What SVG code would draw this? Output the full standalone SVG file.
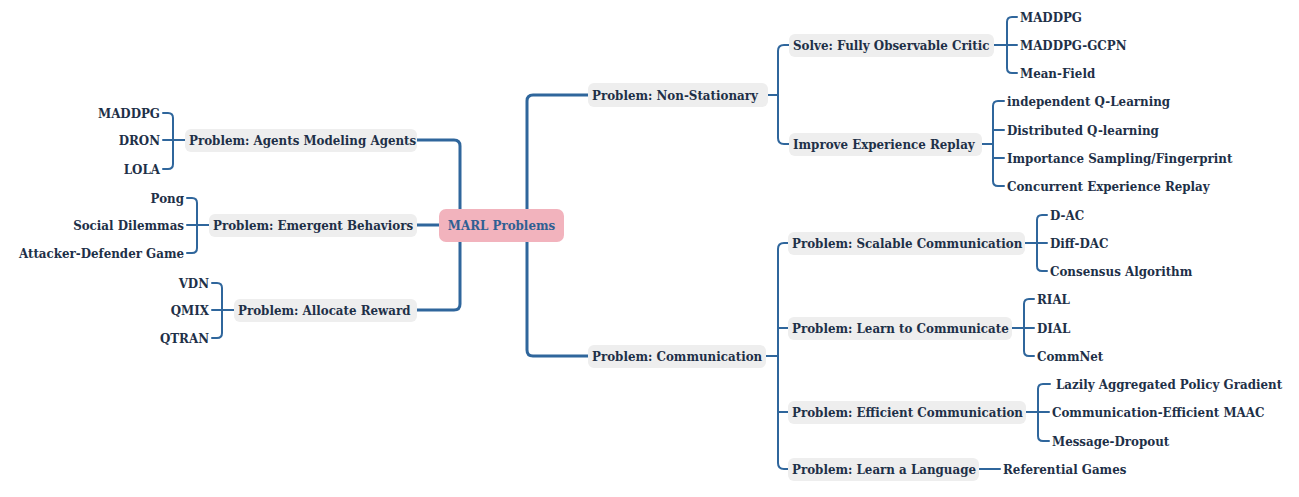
<svg xmlns="http://www.w3.org/2000/svg" width="1299" height="497" viewBox="0 0 1299 497">
<style>
text{font-family:"DejaVu Serif Condensed","DejaVu Serif","Liberation Serif",serif;font-stretch:condensed;font-weight:bold;font-size:13.2px;fill:#1e3048;dominant-baseline:central}
.box{fill:#eeeeee}
.end{text-anchor:end}
.con path{fill:none;stroke:#2f669c;stroke-width:2;stroke-linecap:round}
.con path.main{stroke-width:3}
</style>
<rect width="1299" height="497" fill="#ffffff"/>
<g class="con" id="connectors">
<path class="main" d="M417,140 H454 Q460,140 460,146 V304 Q460,310 454,310 H417"/>
<path class="main" d="M417,225 H439"/>
<path class="main" d="M588,95 H533 Q527,95 527,101 V350 Q527,356 533,356 H588"/>
<path d="M163,113 H168 Q173,113 173,118 V164 Q173,169 168,169 H163 M163,140 H185"/>
<path d="M187,198 H192 Q197,198 197,203 V248 Q197,253 192,253 H187 M187,225 H209"/>
<path d="M212,283 H217 Q222,283 222,288 V333 Q222,338 217,338 H212 M212,310 H234"/>
<path d="M768,95 H778 M789,45 H784 Q778,45 778,51 V138 Q778,144 784,144 H789"/>
<path d="M994,45 H1017 M1017,17 H1012 Q1007,17 1007,22 V68 Q1007,73 1012,73 H1017"/>
<path d="M982,144 H993 M1004,101 H998 Q993,101 993,106 V181 Q993,186 998,186 H1004 M993,130 H1004 M993,158 H1004"/>
<path d="M766,356 H778 M788,243 H784 Q778,243 778,249 V463 Q778,469 784,469 H788 M778,328 H788 M778,412 H788"/>
<path d="M1025,243 H1047 M1047,215 H1042 Q1037,215 1037,220 V266 Q1037,271 1042,271 H1047"/>
<path d="M1012,328 H1034 M1034,299 H1029 Q1024,299 1024,304 V351 Q1024,356 1029,356 H1034"/>
<path d="M1026,412 H1049 M1050,384 H1043 Q1038,384 1038,389 V436 Q1038,441 1043,441 H1049"/>
<path d="M979,469 H1000"/>
</g>
<g id="root"><rect x="439" y="209" width="125" height="33" rx="7" fill="#f2b3bd"/><text x="501.5" y="225.5" style="text-anchor:middle;fill:#2f5f93">MARL Problems</text></g>
<g id="n-agents"><rect class="box" x="185" y="129" width="232" height="23" rx="6"/><text x="189" y="140.5">Problem: Agents Modeling Agents</text></g>
<g id="n-emergent"><rect class="box" x="209" y="214" width="208" height="23" rx="6"/><text x="213" y="225.5">Problem: Emergent Behaviors</text></g>
<g id="n-reward"><rect class="box" x="234" y="299" width="183" height="23" rx="6"/><text x="238" y="310.5">Problem: Allocate Reward</text></g>
<g id="l-maddpg1"><text class="end" x="160" y="113">MADDPG</text></g>
<g id="l-dron"><text class="end" x="160" y="140.5">DRON</text></g>
<g id="l-lola"><text class="end" x="160" y="169">LOLA</text></g>
<g id="l-pong"><text class="end" x="184" y="198">Pong</text></g>
<g id="l-social"><text class="end" x="184" y="225.5">Social Dilemmas</text></g>
<g id="l-attacker"><text class="end" x="184" y="253">Attacker-Defender Game</text></g>
<g id="l-vdn"><text class="end" x="209" y="283">VDN</text></g>
<g id="l-qmix"><text class="end" x="209" y="310.5">QMIX</text></g>
<g id="l-qtran"><text class="end" x="209" y="338">QTRAN</text></g>
<g id="n-nonstat"><rect class="box" x="588" y="83" width="180" height="24" rx="6"/><text x="592" y="95">Problem: Non-Stationary</text></g>
<g id="n-solve"><rect class="box" x="789" y="34" width="205" height="23" rx="6"/><text x="793" y="45.5">Solve: Fully Observable Critic</text></g>
<g id="n-improve"><rect class="box" x="789" y="133" width="193" height="23" rx="6"/><text x="793" y="144.5">Improve Experience Replay</text></g>
<g id="l-maddpg2"><text x="1020" y="17">MADDPG</text></g>
<g id="l-gcpn"><text x="1020" y="45">MADDPG-GCPN</text></g>
<g id="l-meanfield"><text x="1020" y="73">Mean-Field</text></g>
<g id="l-iql"><text x="1007" y="101">independent Q-Learning</text></g>
<g id="l-dql"><text x="1007" y="130">Distributed Q-learning</text></g>
<g id="l-isf"><text x="1007" y="158">Importance Sampling/Fingerprint</text></g>
<g id="l-cer"><text x="1007" y="186">Concurrent Experience Replay</text></g>
<g id="n-comm"><rect class="box" x="588" y="345" width="178" height="23" rx="6"/><text x="592" y="356.5">Problem: Communication</text></g>
<g id="n-scalable"><rect class="box" x="788" y="232" width="237" height="23" rx="6"/><text x="792" y="243.5">Problem: Scalable Communication</text></g>
<g id="n-learn"><rect class="box" x="788" y="317" width="224" height="23" rx="6"/><text x="792" y="328.5">Problem: Learn to Communicate</text></g>
<g id="n-efficient"><rect class="box" x="788" y="401" width="238" height="23" rx="6"/><text x="792" y="412.5">Problem: Efficient Communication</text></g>
<g id="n-language"><rect class="box" x="788" y="458" width="191" height="23" rx="6"/><text x="792" y="469.5">Problem: Learn a Language</text></g>
<g id="l-dac"><text x="1050" y="215">D-AC</text></g>
<g id="l-diffdac"><text x="1050" y="243">Diff-DAC</text></g>
<g id="l-consensus"><text x="1050" y="271">Consensus Algorithm</text></g>
<g id="l-rial"><text x="1037" y="299">RIAL</text></g>
<g id="l-dial"><text x="1037" y="328">DIAL</text></g>
<g id="l-commnet"><text x="1037" y="356">CommNet</text></g>
<g id="l-lazily"><text x="1056" y="384">Lazily Aggregated Policy Gradient</text></g>
<g id="l-cemaac"><text x="1052" y="412">Communication-Efficient MAAC</text></g>
<g id="l-dropout"><text x="1052" y="441">Message-Dropout</text></g>
<g id="l-referential"><text x="1003" y="469">Referential Games</text></g>
</svg>
